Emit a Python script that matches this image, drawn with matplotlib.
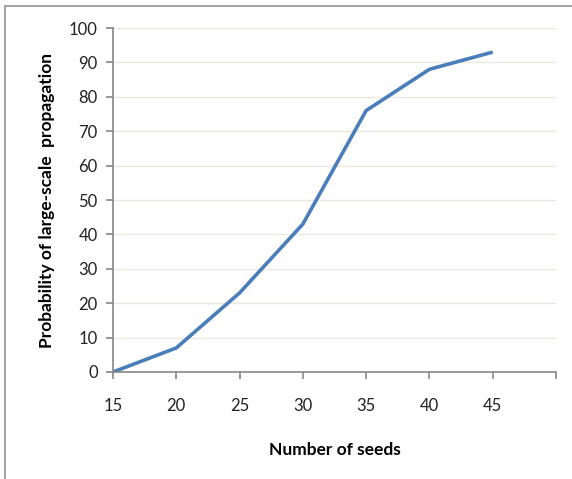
import matplotlib.pyplot as plt
from matplotlib.patches import Rectangle

seeds = [15, 20, 25, 30, 35, 40, 45]
probability = [0, 7, 23, 43, 76, 88, 93]
x_ticks = [15, 20, 25, 30, 35, 40, 45, 50]
x_tick_labels = ['15', '20', '25', '30', '35', '40', '45', '']
y_ticks = list(range(0, 101, 10))

plt.rcParams['font.family'] = ['Lato', 'DejaVu Sans']

fig = plt.figure(figsize=(5.72, 4.79), dpi=100)
ax = fig.add_axes([0.1976, 0.2234, 0.7744, 0.7181])

# outer chart frame (runs off the right and bottom edges)
fig.patches.append(Rectangle((5 / 572, -0.1), 1.2, 1 - 6 / 479 + 0.1,
                             transform=fig.transFigure, fill=False,
                             edgecolor='#a6a6a6', linewidth=1.5))

ax.plot(seeds, probability, color='#4a7ebb', linewidth=2.6, solid_capstyle='butt')

ax.set_xlim(15, 50)
ax.set_ylim(0, 100)
ax.set_xticks(x_ticks)
ax.set_xticklabels(x_tick_labels)
ax.set_yticks(y_ticks)
ax.grid(axis='y', color='#ebe9df', linewidth=1)
ax.set_axisbelow(True)

for side in ['top', 'right']:
    ax.spines[side].set_visible(False)
for side in ['left', 'bottom']:
    ax.spines[side].set_color('#868686')
    ax.spines[side].set_linewidth(1.2)

ax.tick_params(axis='both', colors='#868686', length=5, width=1.2,
               labelcolor='#222222', labelsize=12)
ax.tick_params(axis='x', pad=14)
ax.tick_params(axis='y', pad=6)

ax.set_xlabel('Number of seeds', fontsize=12.5, fontweight='bold', labelpad=20)
ax.set_ylabel('Probability of large-scale  propagation', fontsize=12.5,
              fontweight='bold', labelpad=10)

fig.savefig('out.png', dpi=100)
